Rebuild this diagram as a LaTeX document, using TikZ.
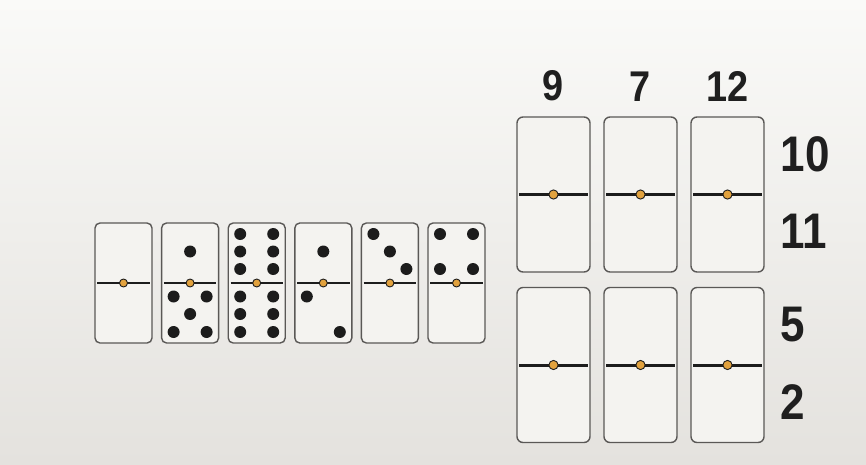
\documentclass[tikz,border=0pt]{standalone}
\usepackage{fontspec}
\setmainfont{Liberation Sans}
\newfontfamily\numfont[FakeStretch=0.88]{Liberation Sans}
\usetikzlibrary{positioning,calc}
\definecolor{papertop}{HTML}{FAFAF8}
\definecolor{paperbot}{HTML}{E4E2DE}
\definecolor{tilecol}{HTML}{F4F3F0}
\definecolor{edgecol}{HTML}{5A5856}
\definecolor{pipcol}{HTML}{1C1C1C}
\definecolor{hubcol}{HTML}{E2A23E}
\definecolor{inkcol}{HTML}{1F1F1F}

\begin{document}
\begin{tikzpicture}[x=1pt,y=-1pt,
  tile/.style={draw=edgecol,fill=tilecol,line width=1.4pt,rounded corners=5pt,
    minimum width=57pt,minimum height=120pt,inner sep=0pt},
  bigtile/.style={tile,rounded corners=6pt,minimum width=73pt,minimum height=155pt},
  bar/.style={draw=pipcol,line width=2.6pt},
  hub/.style={fill=hubcol,draw=pipcol,line width=0.9pt},
  num/.style={font=\numfont\bfseries\fontsize{43}{43}\selectfont,text=inkcol,inner sep=0pt},
  rownum/.style={num,font=\numfont\bfseries\fontsize{50}{50}\selectfont,anchor=west}]
  \shade[top color=papertop,bottom color=paperbot] (0,0) rectangle (866,464);
  \useasboundingbox (0,0) rectangle (866,464);

  % row of six dominoes
  \foreach \i in {1,...,6} {
    \pgfmathsetmacro{\x}{123.5+(\i-1)*66.6}
    \node[tile] (small\i) at (\x,283) {};
    \draw[bar] ($(small\i.west)+(3,0)$) -- ($(small\i.east)+(-3,0)$);
    \draw[hub] (small\i.center) circle (4pt);
  }
  % pips: tile/dx/dy
  \foreach \t/\dx/\dy in {%
    2/0/-31.5, 2/-16.5/13.5, 2/16.5/13.5, 2/0/31, 2/-16.5/49, 2/16.5/49,%
    3/-16.5/-49, 3/16.5/-49, 3/-16.5/-31.5, 3/16.5/-31.5, 3/-16.5/-14, 3/16.5/-14,%
    3/-16.5/13.5, 3/16.5/13.5, 3/-16.5/31, 3/16.5/31, 3/-16.5/49, 3/16.5/49,%
    4/0/-31.5, 4/-16.5/13.5, 4/16.5/49,%
    5/-16.5/-49, 5/0/-31.5, 5/16.5/-14,%
    6/-16.5/-49, 6/16.5/-49, 6/-16.5/-14, 6/16.5/-14}
    \fill[pipcol] ($(small\t.center)+(\dx,\dy)$) circle (6pt);

  % empty 2x3 grid
  \foreach \r in {1,2} {
    \foreach \c in {1,2,3} {
      \pgfmathsetmacro{\x}{553.5+(\c-1)*87}
      \pgfmathsetmacro{\y}{194.5+(\r-1)*170.5}
      \node[bigtile] (big\r\c) at (\x,\y) {};
      \draw[bar,line width=3pt] ($(big\r\c.west)+(3,0)$) -- ($(big\r\c.east)+(-3,0)$);
      \draw[hub] (big\r\c.center) circle (4.6pt);
    }
  }

  % sums
  \foreach \c/\val in {1/9,2/7,3/12}
    \node[num,above=15pt of big1\c] (col\c) {\val};
  \foreach \r/\up/\dn in {1/10/11,2/5/2} {
    \node[rownum] (rowup\r) at ($(big\r3.east)+(16,-40)$) {\up};
    \node[rownum] (rowdn\r) at ($(big\r3.east)+(16,37)$) {\dn};
  }
\end{tikzpicture}
\end{document}
